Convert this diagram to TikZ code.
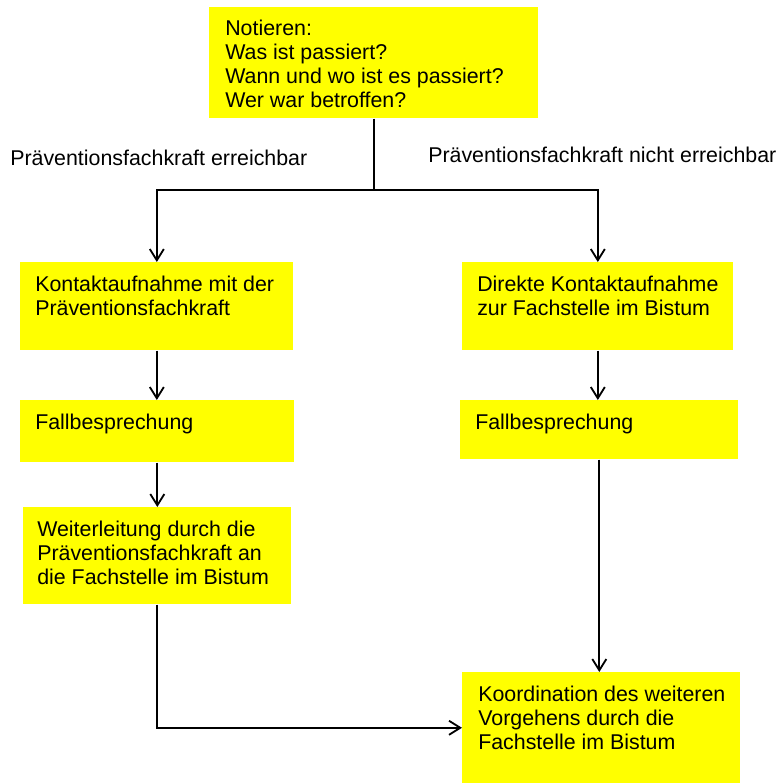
\documentclass[tikz,border=0pt]{standalone}
\usepackage{fontspec}
\setmainfont{Liberation Sans}
\usepackage{tikz}
\usepackage{xcolor}
\usetikzlibrary{arrows.meta,positioning}
\definecolor{Box_Yellow}{HTML}{FFFF00}
\definecolor{Line_Black}{HTML}{000000}

\begin{document}
\begin{tikzpicture}[>={Straight Barb[length=8pt,width=10pt]}, x=0.025cm, y=-0.025cm,
    stepbox/.style={fill=Box_Yellow, draw=none, inner sep=0pt, anchor=north west},
    steptext/.style={anchor=north west, inner sep=0pt, align=left, font=\fontsize{15.2}{17}\selectfont},
    flow/.style={->, line width=1.3pt, Line_Black}]
    \useasboundingbox (0,0) rectangle (779,783);

    % Start box
    \node[stepbox, minimum width=8.225cm, minimum height=2.775cm] (notiz) at (209,7) {};
    \node[steptext] (notizT) at ([shift={(16,13)}]notiz.north west) {Notieren:\\Was ist passiert?\\Wann und wo ist es passiert?\\Wer war betroffen?};

    % Branch labels
    \node[steptext, anchor=west] (lblJa) at (10,158) {Präventionsfachkraft erreichbar};
    \node[steptext, anchor=west] (lblNein) at (428,155) {Präventionsfachkraft nicht erreichbar};

    % Left branch
    \node[stepbox, minimum width=6.825cm, minimum height=2.2cm] (kontakt) at (20,262) {};
    \node[steptext] (kontaktT) at ([shift={(15,13.5)}]kontakt.north west) {Kontaktaufnahme mit der\\Präventionsfachkraft};

    \node[stepbox, minimum width=6.85cm, minimum height=1.55cm] (fallL) at (20,400) {};
    \node[steptext] (fallLT) at ([shift={(15,13.5)}]fallL.north west) {Fallbesprechung};

    \node[stepbox, minimum width=6.7cm, minimum height=2.425cm] (weiter) at (23,507) {};
    \node[steptext] (weiterT) at ([shift={(14,13.5)}]weiter.north west) {Weiterleitung durch die\\Präventionsfachkraft an\\die Fachstelle im Bistum};

    % Right branch
    \node[stepbox, minimum width=6.775cm, minimum height=2.2cm] (direkt) at (462,262) {};
    \node[steptext] (direktT) at ([shift={(15,13.5)}]direkt.north west) {Direkte Kontaktaufnahme\\zur Fachstelle im Bistum};

    \node[stepbox, minimum width=6.95cm, minimum height=1.475cm] (fallR) at (460,400) {};
    \node[steptext] (fallRT) at ([shift={(15,13.5)}]fallR.north west) {Fallbesprechung};

    \node[stepbox, minimum width=6.95cm, minimum height=2.775cm] (koord) at (462,672) {};
    \node[steptext] (koordT) at ([shift={(16,13.5)}]koord.north west) {Koordination des weiteren\\Vorgehens durch die\\Fachstelle im Bistum};

    % Connectors
    \draw[line width=1.3pt, Line_Black] (notiz.south) -- ++(0,71) coordinate (split);
    \draw[flow] (split) -| (kontakt.north);
    \draw[flow] (split) -| (direkt.north);
    \draw[flow] (kontakt.south) -- (kontakt.south |- fallL.north);
    \draw[flow] (fallL.south) -- (fallL.south |- weiter.north);
    \draw[flow] (direkt.south) -- (direkt.south |- fallR.north);
    \draw[flow] (fallR.south) -- (fallR.south |- koord.north);
    \draw[flow] (weiter.south) |- (koord.west);

\end{tikzpicture}
\end{document}
